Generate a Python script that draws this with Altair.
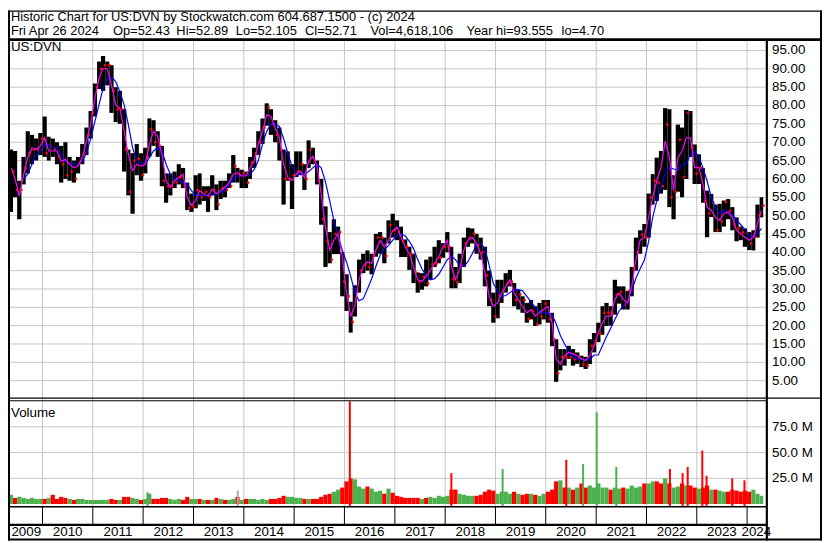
import altair as alt
import pandas as pd

# ---------------------------------------------------------------- data
# monthly values, May 2009 .. Apr 2024 (one row per line = one year)
price_high = [
    68, 67.6, 59.5, 66, 73, 72, 71, 72.5,
    77, 71.5, 71, 70, 69, 70, 66, 65, 66, 69.5, 74, 78.5,
    86, 92, 93.5, 92, 91, 85, 84, 79, 68, 67, 69.5, 67,
    68.5, 76.5, 76, 73, 69, 61.5, 61.5, 62, 64, 63, 59, 56,
    61, 61.5, 58, 58, 61, 58.5, 59.5, 59.5, 61.5, 66.5, 63, 62.5,
    62, 66, 68.5, 73, 76.5, 80.6, 79, 76, 74, 68, 67.5, 64,
    67.5, 67.5, 64, 70.5, 68.5, 65, 60, 52.5, 45.5, 49, 47, 40,
    34, 26.5, 31, 38, 39.6, 40.5, 39.6, 45, 45.5, 44, 48.7, 50.5,
    48.7, 47, 43.5, 41.5, 39.6, 34.5, 34.3, 38, 38.8, 41.5, 43.3, 42.5,
    45.5, 41.5, 36, 39.6, 44, 46.7, 46.5, 45, 44, 41.5, 35, 29,
    32.5, 32.5, 34.3, 35.2, 31.6, 29.8, 28, 26.2, 27, 25.3, 26.2, 27,
    27, 23.5, 16.3, 13.6, 13.6, 14.5, 13.6, 12.7, 11.8, 11.5, 16.3, 18,
    20.8, 25.3, 26.2, 25.3, 32.5, 30.7, 30.7, 29.5, 36, 44, 46, 47.7,
    56, 61.3, 65.8, 67.6, 79.3, 79, 61, 74.8, 74, 78.8, 78.5, 69.4,
    66.7, 63, 56.8, 55.9, 53, 53.2, 54.1, 54.5, 52.3, 49.5, 47, 46.5,
    45.5, 46, 53, 55,
]
price_low = [
    51, 55, 49, 58.5, 61.5, 64, 65, 66.5,
    66, 65, 66, 64, 59, 60, 59.5, 59, 61.5, 64, 66.5, 71,
    77, 84.5, 84, 85.5, 78, 75.5, 75, 62, 55.5, 50.5, 61, 59.5,
    61.5, 66, 69, 66, 58, 53.5, 55.5, 57.5, 58.5, 57.5, 51.5, 51,
    52, 53, 54, 51, 55.5, 51.5, 54.5, 55, 57.5, 59, 59, 57.5,
    57.5, 60, 63, 66.5, 69.5, 74.5, 72, 70, 65, 53, 59.5, 51.8,
    60.5, 61, 57, 63, 64, 58.5, 47.5, 36, 37, 39.5, 39.5, 28,
    24, 18.1, 22.5, 29, 34.3, 35, 34, 38.8, 39.6, 37, 42.4, 44,
    43.3, 38.7, 38.7, 35.2, 31.6, 29, 29.8, 30.7, 32.5, 36, 37, 38.5,
    40, 30.2, 30.2, 31.6, 36, 41.5, 42.4, 39.6, 38, 30.7, 25.3, 20.8,
    22, 26.2, 29, 30.7, 25.3, 24.4, 23.5, 20.8, 21.7, 19.9, 20.3, 21.7,
    20.8, 14.4, 4.7, 7.8, 9.1, 10.9, 9.1, 9.6, 8.7, 8.2, 9.5, 12.7,
    15.5, 17.5, 19.9, 20, 23, 26, 24.4, 24.4, 28, 35, 39.6, 41.5,
    44, 53, 54, 56, 57, 52.3, 49, 56.5, 55, 60, 66, 58.6,
    58.6, 53.5, 44.1, 49.6, 45.5, 45.5, 47, 49, 46, 43, 43.3, 41.5,
    40.6, 40.5, 44, 49.5,
]
price_close = [
    62, 57, 57, 63, 67, 68, 68, 71,
    67, 69, 68, 66, 64, 61, 62, 60, 64.5, 67, 72, 78,
    85, 90, 91, 91, 84, 79, 79, 68, 56.5, 65, 65.5, 61,
    66, 73.5, 70, 69, 59.5, 58, 58, 59, 60.5, 58, 52, 52.5,
    57, 55, 56.5, 55, 57, 53, 57.5, 57, 58, 63.5, 61, 61.5,
    59, 64.5, 67, 70, 74, 79.5, 75, 72, 68, 60, 60, 61,
    62, 64, 60, 68, 65, 59.5, 49, 43, 38, 45, 45.5, 32,
    28, 21, 27.5, 35, 36.5, 36, 39, 44, 44, 39, 47.5, 46,
    45.5, 43, 41.5, 39.5, 34.5, 32, 33.3, 31.5, 36.7, 37, 38.5, 41.4,
    41.4, 32.7, 31.8, 36.4, 42.5, 44, 45, 42, 40, 33.7, 27, 22.5,
    28.2, 29.7, 31.6, 32, 27, 28.5, 27, 21.8, 24, 20.3, 22.5, 26,
    21.7, 16.3, 7, 11.5, 11.3, 11.3, 10.8, 11.3, 9.5, 9, 14.5, 15.8,
    17.8, 23.5, 23.6, 23.3, 28.5, 29.2, 25.7, 29.5, 35.5, 40, 44.8, 44,
    55, 59.5, 59, 58, 74.8, 55, 56.5, 70.7, 60.5, 78, 68.6, 61.5,
    63, 54, 50.6, 53.5, 46, 48.4, 53.7, 51.3, 47.6, 46.5, 45.4, 45.3,
    42.4, 44.3, 50.2, 52.71,
]
ma_fast = [
    63, 60, 55.4, 61, 65.8, 68.5, 68, 69,
    71.2, 67.6, 67.6, 67.6, 64.8, 65.3, 64, 63, 63.5, 65.8, 70.3, 74.8,
    82, 87.4, 90.1, 90.1, 85.6, 80.2, 79.3, 73, 66.7, 62.2, 64, 63.5,
    64, 69.4, 73, 71.6, 66.7, 59.5, 57.7, 59.5, 60.4, 61.3, 55, 52.7,
    54.1, 56.8, 55.9, 55.4, 57.2, 55.9, 56.8, 57.7, 59, 61.3, 61.7, 60.8,
    60.8, 63, 64.8, 69.4, 73, 77.5, 77, 73.9, 71.2, 64, 60.4, 59.5,
    61.3, 62.2, 60.4, 64.8, 66.2, 63.5, 55.9, 46.9, 40.6, 43.3, 45, 38.8,
    28.9, 22.6, 25.3, 32.5, 36.1, 37.4, 37, 40.6, 43.3, 41.5, 43.3, 45.9,
    46.9, 44.1, 41.5, 39.6, 36.1, 32.5, 32, 33.4, 35.2, 37, 38.8, 41.5,
    43.3, 36.1, 32.5, 35.2, 40.6, 43.3, 44.1, 42.4, 39.6, 34.3, 28, 25.3,
    26.2, 28.9, 30.7, 32.5, 28.9, 27.1, 25.3, 23.5, 24.4, 22.6, 23.5, 24.4,
    25.3, 20.8, 10.9, 9.5, 11.8, 12.7, 12.3, 11.8, 10.9, 10.5, 11.8, 14.5,
    18.1, 20.8, 22.6, 22.6, 27.1, 28.9, 27.1, 26.2, 30.7, 37.9, 43.3, 44.1,
    49.6, 55, 59.5, 63.1, 70.3, 66, 56.8, 65.8, 67.6, 71.2, 71.2, 63.1,
    63.1, 58.6, 52.3, 51.4, 49.6, 48.7, 50.5, 51, 49.6, 46, 45, 44.1,
    43.3, 44.1, 47.8, 51.4,
]
ma_slow = [
    None, None, None, 60, 61.3, 64, 66.7, 67.6,
    69.4, 69.4, 68.5, 68.5, 66.7, 64.9, 64.4, 64, 64, 64.9, 67, 71,
    75.7, 80.2, 84.7, 87.4, 87.8, 86.5, 83.8, 80.2, 74.8, 68.5, 64.9, 64.4,
    64, 65.8, 67.6, 68.5, 67.6, 64, 61.3, 59.9, 59.5, 59, 58.6, 56.8,
    55.5, 55.5, 55.4, 55.4, 55.6, 56, 56.4, 57, 58.5, 60, 60.8, 60.8,
    61, 61.3, 62.5, 65, 69.5, 73, 75, 75, 74.3, 71, 67, 63.5,
    61.3, 61.3, 61.3, 62, 63, 64, 63, 59.2, 54, 48.7, 44.5, 40.5,
    37.3, 33.5, 29, 26.8, 27.3, 30, 32.8, 36.2, 39.2, 40.8, 41.8, 43.3,
    44.5, 45, 44.5, 43, 41, 38, 35.5, 33.5, 32.5, 32.8, 34, 36,
    38, 39, 38, 36.5, 36.1, 37.5, 39.6, 42.2, 42.4, 41, 36.5, 31.5,
    29.5, 28, 28.2, 29, 29.8, 29.8, 29.5, 28, 26.5, 25, 24, 23.5,
    23.5, 23, 20.5, 17.3, 15, 13, 11.4, 11, 10.9, 10.5, 10.8, 12,
    12, 14.5, 17, 19.3, 21.7, 24, 25.3, 26.5, 29.5, 33, 35.5, 37.9,
    43, 49.5, 54, 58, 61.5, 63.1, 62.7, 62.5, 63.8, 64, 66.7, 67.5,
    66, 63, 59.5, 55, 52, 50.5, 51.4, 51, 50.2, 48.8, 47.5, 46.2,
    44.5, 44.2, 45, 46.5,
]
volume_m = [
    9, 6, 7, 6, 5, 6, 5, 5,
    5, 6, 9, 5, 7, 6, 5, 4, 5, 5, 4, 4,
    4, 4, 4, 4, 5, 4, 4, 7, 7, 6, 5, 4,
    5, 10, 5, 5, 6, 6, 5, 4, 5, 4, 7, 5,
    5, 5, 4, 4, 4, 6, 5, 4, 4, 5, 7, 4,
    5, 5, 5, 4, 5, 4, 5, 5, 6, 8, 7, 7,
    6, 6, 5, 5, 5, 5, 7, 9, 10, 12, 14, 16,
    22, 25, 24, 17, 15, 17, 15, 12, 13, 10, 15, 11,
    8, 7, 6, 6, 6, 6, 5, 6, 7, 6, 8, 7,
    8, 14, 14, 10, 9, 8, 8, 8, 9, 12, 14, 13,
    10, 12, 12, 10, 12, 10, 9, 10, 10, 9, 8, 10,
    12, 14, 22, 23, 16, 16, 14, 16, 20, 16, 18, 16,
    20, 16, 16, 14, 16, 15, 16, 15, 18, 16, 17, 20,
    20, 22, 22, 20, 25, 20, 16, 17, 20, 18, 18, 16,
    15, 16, 18, 14, 14, 13, 12, 12, 14, 13, 12, 13,
    12, 14, 10, 8,
]
# single-day volume spikes
spike_dates = ["2012-02-02", "2013-11-18", "2016-02-09", "2018-02-15", "2019-02-22",
               "2020-05-29", "2020-09-28", "2021-01-05", "2021-05-27", "2022-06-20",
               "2022-09-20", "2022-10-27", "2023-02-10", "2023-03-13", "2023-09-15",
               "2023-12-13"]
spike_vols = [11.5, 13, 110, 30, 34, 43, 39, 89, 36, 34, 30, 36, 52, 27.5, 25, 23]
spike_dirs = ["up", "flat", "down", "down", "up", "down", "up", "up", "up", "down",
              "down", "down", "down", "down", "down", "down"]

price_ticks = [5, 10, 15, 20, 25, 30, 35, 40, 45, 50, 55, 60, 65, 70, 75, 80, 85, 90, 95]
vol_ticks = [25, 50, 75]
vol_tick_labels = ["25.0 M", "50.0 M", "75.0 M"]
years = list(range(2009, 2025))

title_line = "Historic Chart for US:DVN by Stockwatch.com 604.687.1500 - (c) 2024"
quote_items = ["Fri Apr 26 2024", "Op=52.43", "Hi=52.89", "Lo=52.105", "Cl=52.71",
               "Vol=4,618,106", "Year hi=93.555", "lo=4.70"]

# ---------------------------------------------------------------- layout
W, H = 822, 535
X0, X1 = 2, 765
PRICE_RANGE = [373.7, 40.3]
VOL_RANGE = [498.3, 394.5]
TOP = 30.6          # top of the price panel
FONT = "Liberation Sans"
GRID = "#c6c6c6"
RED, GREEN, GRAY = "#ff0000", "#4cb04c", "#a8a8a8"
quote_x = [3, 106, 170, 230, 300, 366, 463, 559]

DOM0 = pd.Timestamp("2009-05-10")
DOM1 = pd.Timestamp("2024-05-14")
LAST = pd.Timestamp("2024-04-27")

months = pd.date_range("2009-05-01", "2024-04-01", freq="MS")
starts = [max(m, DOM0) for m in months]
ends = [min(m + pd.offsets.MonthBegin(1), LAST) for m in months]
mids = [s + (e - s) / 2 for s, e in zip(starts, ends)]
prev = [None] + price_close[:-1]
vcol = [GREEN if p is None or c >= p else RED for c, p in zip(price_close, prev)]

df = pd.DataFrame(dict(start=starts, end=ends, mid=mids, hi=price_high, lo=price_low,
                       cl=price_close, fast=ma_fast, slow=ma_slow, vol=volume_m, vcol=vcol))
df_slow = df[df["slow"].notna()]

spk = pd.DataFrame(dict(d=pd.to_datetime(spike_dates), v=spike_vols,
                        c=[{"up": GREEN, "down": RED, "flat": GRAY}[k] for k in spike_dirs]))

year_starts = pd.DataFrame(dict(d=[pd.Timestamp(f"{y}-01-01") for y in years[1:]]))
ylab_mid = []
for y in years:
    a = max(pd.Timestamp(f"{y}-01-01"), DOM0)
    b = min(pd.Timestamp(f"{y + 1}-01-01"), DOM1)
    ylab_mid.append(a + (b - a) / 2)
ylabels = pd.DataFrame(dict(d=ylab_mid, t=[str(y) for y in years]))


def xs():
    return alt.Scale(domain=[alt.DateTime(year=2009, month=5, date=10),
                             alt.DateTime(year=2024, month=5, date=14)],
                     range=[X0, X1], nice=False)


def X(f):
    return alt.X(f, type="temporal", scale=xs(), axis=None)


def YP(f):
    return alt.Y(f, type="quantitative", axis=None,
                 scale=alt.Scale(domain=[5, 95], range=PRICE_RANGE, nice=False, zero=False))


def YV(f):
    return alt.Y(f, type="quantitative", axis=None,
                 scale=alt.Scale(domain=[0, 99.8], range=VOL_RANGE, nice=False, zero=False,
                                 clamp=True))


layers = []

# grid
layers.append(alt.Chart(pd.DataFrame(dict(p=price_ticks))).mark_rule(color=GRID, strokeWidth=1)
              .encode(y=YP("p"), x=alt.value(X0), x2=alt.value(X1)))
layers.append(alt.Chart(pd.DataFrame(dict(v=vol_ticks))).mark_rule(color=GRID, strokeWidth=1)
              .encode(y=YV("v"), x=alt.value(X0), x2=alt.value(X1)))
layers.append(alt.Chart(year_starts).mark_rule(color=GRID, strokeWidth=1)
              .encode(x=X("d"), y=alt.value(TOP), y2=alt.value(501)))

# price bars
layers.append(alt.Chart(df).mark_bar(color="black", strokeWidth=0)
              .encode(x=X("start"), x2="end", y=YP("lo"), y2="hi"))
layers.append(alt.Chart(df).mark_square(color=RED, size=6, opacity=1)
              .encode(x=X("mid"), y=YP("cl"), xOffset=alt.value(2)))
# moving averages
layers.append(alt.Chart(df_slow).mark_line(color="#0000ff", strokeWidth=1.2)
              .encode(x=X("mid"), y=YP("slow")))
layers.append(alt.Chart(df).mark_line(color="#ff00ff", strokeWidth=1.2)
              .encode(x=X("mid"), y=YP("fast")))

# volume
layers.append(alt.Chart(df).mark_bar(strokeWidth=0)
              .encode(x=X("start"), x2="end", y=YV("vol"), y2=alt.value(500.5),
                      color=alt.Color("vcol:N", scale=None)))
layers.append(alt.Chart(spk).mark_rule(strokeWidth=2)
              .encode(x=X("d"), y=YV("v"), y2=alt.value(500.5),
                      color=alt.Color("c:N", scale=None)))

# frame lines
frame = pd.DataFrame([
    dict(x=0, x2=W, y=0.6, y2=0.6, w=1.2),
    dict(x=1, x2=1, y=0, y2=H, w=2),
    dict(x=W - 1, x2=W - 1, y=0, y2=H, w=2),
    dict(x=0, x2=W, y=H - 1, y2=H - 1, w=2),
    dict(x=0, x2=W, y=29.3, y2=29.3, w=2.6),
    dict(x=766.3, x2=766.3, y=29.3, y2=H, w=2.2),
    dict(x=0, x2=W, y=391.3, y2=391.3, w=1.2),
    dict(x=0, x2=766.3, y=394, y2=394, w=1.2),
    dict(x=0, x2=766.3, y=501, y2=501, w=1.5),
    dict(x=0, x2=766.3, y=519.3, y2=519.3, w=2.2),
])
layers.append(alt.Chart(frame).mark_rule(color="black")
              .encode(x=alt.X("x:Q", scale=None, axis=None), x2="x2",
                      y=alt.Y("y:Q", scale=None, axis=None), y2="y2",
                      strokeWidth=alt.StrokeWidth("w:Q", scale=None, legend=None)))
layers.append(alt.Chart(year_starts).mark_rule(color="black", strokeWidth=1)
              .encode(x=X("d"), y=alt.value(501), y2=alt.value(519)))

# texts
layers.append(alt.Chart(ylabels).mark_text(font=FONT, fontSize=13.5, color="black",
                                           align="center", baseline="alphabetic")
              .encode(x=X("d"), y=alt.value(531), text="t:N"))
layers.append(alt.Chart(pd.DataFrame(dict(p=price_ticks)))
              .mark_text(font=FONT, fontSize=13.5, color="black", align="left", baseline="middle")
              .encode(x=alt.value(771.5), y=YP("p"), text=alt.Text("p:Q", format=".2f")))
layers.append(alt.Chart(pd.DataFrame(dict(v=vol_ticks, t=vol_tick_labels)))
              .mark_text(font=FONT, fontSize=13.5, color="black", align="left", baseline="middle")
              .encode(x=alt.value(771.5), y=YV("v"), text="t:N"))

head = pd.DataFrame(dict(t=[title_line] + quote_items,
                         x=[3] + quote_x,
                         y=[11] + [25] * len(quote_items)))
layers.append(alt.Chart(head).mark_text(font=FONT, fontSize=13, color="black",
                                        align="left", baseline="alphabetic")
              .encode(x=alt.X("x:Q", scale=None, axis=None),
                      y=alt.Y("y:Q", scale=None, axis=None), text="t:N"))
panel_labels = pd.DataFrame(dict(t=["US:DVN", "Volume"], x=[3, 3], y=[41, 410.3]))
layers.append(alt.Chart(panel_labels).mark_text(font=FONT, fontSize=13.5, color="black",
                                                align="left", baseline="alphabetic")
              .encode(x=alt.X("x:Q", scale=None, axis=None),
                      y=alt.Y("y:Q", scale=None, axis=None), text="t:N"))

chart = (alt.layer(*layers)
         .resolve_scale(x="independent", y="independent")
         .properties(width=W, height=H, autosize=alt.AutoSizeParams(type="none"),
                     padding=0, background="white")
         .configure_view(stroke=None))

chart.save("out.html", embed_options={"renderer": "svg", "actions": False})
